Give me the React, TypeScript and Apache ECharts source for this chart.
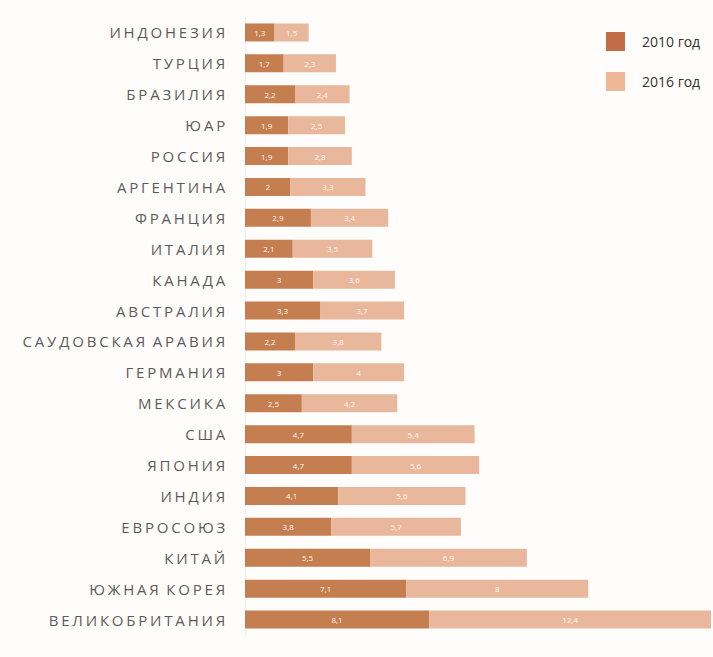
import React, { useEffect, useRef } from "react";
import * as echarts from "echarts";

const categories = [
  "ИНДОНЕЗИЯ", "ТУРЦИЯ", "БРАЗИЛИЯ", "ЮАР", "РОССИЯ", "АРГЕНТИНА", "ФРАНЦИЯ",
  "ИТАЛИЯ", "КАНАДА", "АВСТРАЛИЯ", "САУДОВСКАЯ АРАВИЯ", "ГЕРМАНИЯ", "МЕКСИКА",
  "США", "ЯПОНИЯ", "ИНДИЯ", "ЕВРОСОЮЗ", "КИТАЙ", "ЮЖНАЯ КОРЕЯ", "ВЕЛИКОБРИТАНИЯ",
];
const values2010 = [1.3, 1.7, 2.2, 1.9, 1.9, 2, 2.9, 2.1, 3, 3.3, 2.2, 3, 2.5, 4.7, 4.7, 4.1, 3.8, 5.5, 7.1, 8.1];
const values2016 = [1.5, 2.3, 2.4, 2.5, 2.8, 3.3, 3.4, 3.5, 3.6, 3.7, 3.8, 4, 4.2, 5.4, 5.6, 5.6, 5.7, 6.9, 8, 12.4];
const seriesNames = ["2010 год", "2016 год"];

const fmt = (p: any) => String(p.value).replace(".", ",");

export default function App() {
  const ref = useRef<HTMLDivElement>(null);
  useEffect(() => {
    if (!ref.current) return;
    const chart = echarts.init(ref.current, undefined, { renderer: "svg" });
    const labelStyle = {
      show: true,
      position: "inside" as const,
      color: "#fff7f0",
      fontSize: 8,
      fontFamily: "Open Sans",
      formatter: fmt,
    };
    chart.setOption({
      animation: false,
      backgroundColor: "#fffdfb",
      legend: {
        orient: "vertical",
        left: 601,
        top: 27,
        itemWidth: 19,
        itemHeight: 19,
        itemGap: 21,
        icon: "rect",
        textStyle: {
          color: "#333333",
          fontSize: 14,
          fontFamily: "Open Sans",
          padding: [0, 0, 0, 12],
        },
        data: [
          { name: seriesNames[0], itemStyle: { color: "#c26d47" } },
          { name: seriesNames[1], itemStyle: { color: "#f0b797" } },
        ],
      },
      grid: { left: 245, right: 2, top: 17, bottom: 22, containLabel: false },
      xAxis: { type: "value", min: 0, max: 20.5, show: false },
      yAxis: {
        type: "category",
        data: categories,
        inverse: true,
        axisLine: { show: true, lineStyle: { color: "#ececec", width: 1 } },
        axisTick: { show: false },
        axisLabel: {
          color: "#5b5b5c",
          fontSize: 15,
          fontWeight: 500,
          fontFamily: "Open Sans",
          margin: 17,
        },
      },
      series: [
        {
          name: seriesNames[0],
          type: "bar",
          stack: "total",
          barWidth: 18,
          data: values2010,
          itemStyle: { color: "#c47e50" },
          label: labelStyle,
        },
        {
          name: seriesNames[1],
          type: "bar",
          stack: "total",
          barWidth: 18,
          data: values2016,
          itemStyle: { color: "#e9b89c" },
          label: labelStyle,
        },
      ],
    });
    return () => chart.dispose();
  }, []);
  return (
    <>
      <style>{`#chartbox svg text[fill="#5b5b5c"]{letter-spacing:2.8px;word-spacing:-2px}`}</style>
      <div
        id="chartbox"
        ref={ref}
        style={{ position: "fixed", left: 0, top: 0, width: 713, height: 657 }}
      />
    </>
  );
}
